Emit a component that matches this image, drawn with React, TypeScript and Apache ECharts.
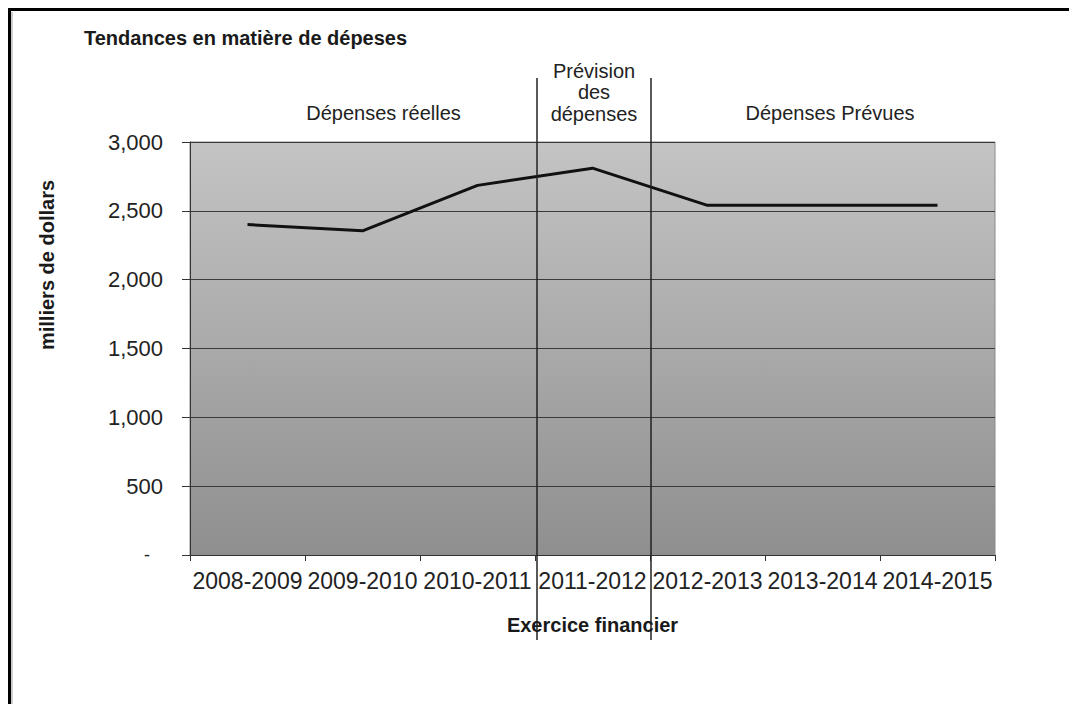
import React, { useEffect, useRef } from "react";
import * as echarts from "echarts";

const categories = ["2008-2009", "2009-2010", "2010-2011", "2011-2012", "2012-2013", "2013-2014", "2014-2015"];
const spending = [2400, 2355, 2685, 2810, 2540, 2540, 2540];
const yTicks = [0, 500, 1000, 1500, 2000, 2500, 3000];
const sectionLabels = ["Dépenses réelles", "Prévision\ndes\ndépenses", "Dépenses Prévues"];
const titleText = "Tendances en matière de dépeses";
const yName = "milliers de dollars";
const xName = "Exercice financier";

const FONT = "'Liberation Sans', Arial, sans-serif";

export default function App() {
  const ref = useRef<HTMLDivElement>(null);
  useEffect(() => {
    if (!ref.current) return;
    const chart = echarts.init(ref.current, null, { renderer: "svg" });
    chart.setOption({
      animation: false,
      backgroundColor: "#ffffff",
      textStyle: { fontFamily: FONT },
      grid: {
        left: 190,
        top: 142,
        right: 74,
        bottom: 149,
        show: true,
        borderColor: "#8a8a8a",
        borderWidth: 1,
        backgroundColor: {
          type: "linear",
          x: 0,
          y: 0,
          x2: 0,
          y2: 1,
          colorStops: [
            { offset: 0, color: "#c4c4c4" },
            { offset: 1, color: "#8f8f8f" },
          ],
        },
        outerBoundsMode: "none",
        containLabel: false,
      },
      xAxis: {
        type: "category",
        data: categories,
        boundaryGap: true,
        axisLine: { lineStyle: { color: "#333", width: 1 } },
        axisTick: { show: true, length: 6, lineStyle: { color: "#333" } },
        axisLabel: { interval: 0, fontSize: 23, color: "#222", margin: 14, fontFamily: FONT },
        splitLine: { show: false },
      },
      yAxis: {
        type: "value",
        min: yTicks[0],
        max: yTicks[yTicks.length - 1],
        interval: yTicks[1] - yTicks[0],
        axisLine: { show: true, lineStyle: { color: "#333", width: 1 } },
        axisTick: { show: true, length: 8, lineStyle: { color: "#333" } },
        splitLine: { show: true, lineStyle: { color: "#3a3a3a", width: 1 } },
        axisLabel: {
          fontSize: 22,
          color: "#222",
          margin: 27,
          fontFamily: FONT,
          formatter: (v: number) => (v === 0 ? "{d|-}" : v.toLocaleString("en-US")),
          rich: { d: { fontSize: 18, color: "#222", padding: [0, 13, 0, 0] } },
        },
      },
      series: [
        {
          type: "line",
          data: spending,
          symbol: "none",
          lineStyle: { color: "#111", width: 3 },
          z: 5,
        },
      ],
    });

    const c0 = chart.convertToPixel({ xAxisIndex: 0 }, categories[0]) as number;
    const c1 = chart.convertToPixel({ xAxisIndex: 0 }, categories[1]) as number;
    const c2 = chart.convertToPixel({ xAxisIndex: 0 }, categories[2]) as number;
    const c3 = chart.convertToPixel({ xAxisIndex: 0 }, categories[3]) as number;
    const c4 = chart.convertToPixel({ xAxisIndex: 0 }, categories[4]) as number;
    const c6 = chart.convertToPixel({ xAxisIndex: 0 }, categories[6]) as number;
    const step = c1 - c0;
    const b1 = (c2 + c3) / 2 + 2;
    const b2 = (c3 + c4) / 2 + 1;
    const gridLeft = c0 - step / 2;
    const gridRight = c6 + step / 2;
    const leftMid = (gridLeft + b1) / 2 + 20;
    const rightMid = (b2 + gridRight) / 2 + 7;
    const midMid = (b1 + b2) / 2;

    chart.setOption({
      graphic: [
        {
          type: "polyline",
          shape: { points: [[9.5, 704], [9.5, 9.5], [1069, 9.5]] },
          style: { stroke: "#000", lineWidth: 3, fill: "none" },
          z: 100,
        },
        {
          type: "line",
          shape: { x1: 12, y1: 12, x2: 12, y2: 704 },
          style: { stroke: "#bdbdbd", lineWidth: 1.5 },
          z: 100,
        },
        {
          type: "line",
          shape: { x1: b1, y1: 78, x2: b1, y2: 640 },
          style: { stroke: "#222", lineWidth: 1.5 },
          z: 100,
        },
        {
          type: "line",
          shape: { x1: b2, y1: 78, x2: b2, y2: 640 },
          style: { stroke: "#222", lineWidth: 1.5 },
          z: 100,
        },
        {
          type: "text",
          left: 84,
          top: 28,
          style: { text: titleText, font: `bold 20px ${FONT}`, fill: "#1a1a1a" },
          z: 100,
        },
        {
          type: "text",
          x: leftMid,
          y: 113,
          style: { text: sectionLabels[0], font: `20px ${FONT}`, fill: "#222", align: "center", verticalAlign: "middle" },
          z: 100,
        },
        {
          type: "text",
          x: midMid,
          y: 92,
          style: {
            text: sectionLabels[1],
            font: `20px ${FONT}`,
            fill: "#222",
            align: "center",
            verticalAlign: "middle",
            lineHeight: 21.5,
          },
          z: 100,
        },
        {
          type: "text",
          x: rightMid,
          y: 113,
          style: { text: sectionLabels[2], font: `20px ${FONT}`, fill: "#222", align: "center", verticalAlign: "middle" },
          z: 100,
        },
        {
          type: "text",
          x: (gridLeft + gridRight) / 2,
          y: 625,
          style: { text: xName, font: `bold 20px ${FONT}`, fill: "#1a1a1a", align: "center", verticalAlign: "middle" },
          z: 100,
        },
        {
          type: "text",
          x: 47,
          y: 265,
          rotation: Math.PI / 2,
          style: { text: yName, font: `bold 20px ${FONT}`, fill: "#1a1a1a", align: "center", verticalAlign: "middle" },
          z: 100,
        },
      ],
    });

    return () => chart.dispose();
  }, []);

  return (
    <div
      ref={ref}
      style={{ position: "fixed", left: 0, top: 0, width: 1069, height: 704, background: "#fff" }}
    />
  );
}
